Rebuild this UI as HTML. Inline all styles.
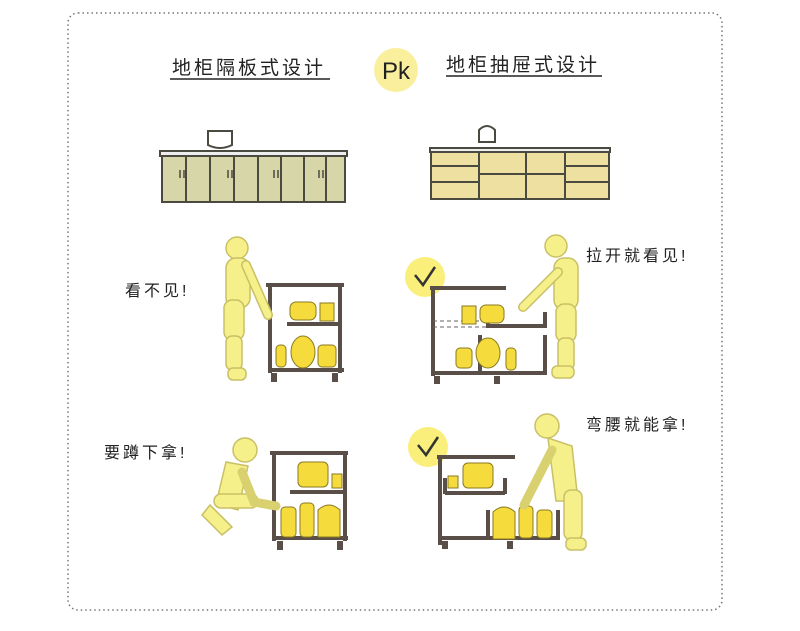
<!DOCTYPE html>
<html><head><meta charset="utf-8"><style>
html,body{margin:0;padding:0;background:#fff;width:800px;height:631px;overflow:hidden}
svg text{font-family:"Liberation Sans","Noto Sans CJK SC",sans-serif;fill:#222}
</style></head><body>
<svg width="800" height="631" viewBox="0 0 800 631" xmlns="http://www.w3.org/2000/svg">
<rect x="68" y="13" width="654" height="597" rx="10" fill="none" stroke="#777" stroke-width="1.5" stroke-dasharray="1.5 3"/>
<!-- titles -->
<text x="172" y="74" font-size="19" letter-spacing="3">地柜隔板式设计</text>
<line x1="170" y1="79" x2="330" y2="79" stroke="#222" stroke-width="1.5"/>
<circle cx="396" cy="70" r="22" fill="#f9ef9c"/>
<text x="382" y="79" font-size="24">Pk</text>
<text x="446" y="71" font-size="19" letter-spacing="3">地柜抽屉式设计</text>
<line x1="446" y1="76" x2="602" y2="76" stroke="#222" stroke-width="1.5"/>
<!-- left counter -->
<g stroke="#4a4a40" stroke-width="2">
<path d="M208 131 h24 v14 q-12 6 -24 0z" fill="#fff"/>
<rect x="160" y="151" width="187" height="5" fill="#eee"/>
<rect x="162" y="156" width="183" height="46" fill="#d6d6a8"/>
<path d="M186 156v46M210 156v46M234 156v46M258 156v46M281 156v46M304 156v46M326 156v46" fill="none"/>
<path d="M180 170v8M184 170v8M228 170v8M232 170v8M274 170v8M278 170v8M319 170v8M323 170v8" fill="none" stroke-width="1.5"/>
</g>
<!-- right counter -->
<g stroke="#4a4a40" stroke-width="2">
<path d="M479 130 q8 -8 16 0 v12 h-16z" fill="#fff"/>
<rect x="430" y="148" width="180" height="4" fill="#eee"/>
<rect x="431" y="152" width="178" height="47" fill="#ede0a0"/>
<path d="M479 152v47M526 152v47M565 152v47M431 166h48M431 182h48M479 174h47M526 174h39M565 166h44M565 182h44" fill="none"/>
</g>
<!-- labels -->
<text x="125" y="296" font-size="16" letter-spacing="3">看不见!</text>
<text x="586" y="261" font-size="16" letter-spacing="3">拉开就看见!</text>
<text x="104" y="458" font-size="16" letter-spacing="3">要蹲下拿!</text>
<text x="586" y="430" font-size="16" letter-spacing="3">弯腰就能拿!</text>
<!-- check circles -->
<circle cx="425" cy="277" r="20" fill="#f9ef7a"/>
<path d="M415 275l8 10l12-18" fill="none" stroke="#333" stroke-width="2.5"/>
<circle cx="428" cy="447" r="20" fill="#f9ef7a"/>
<path d="M418 445l8 10l12-18" fill="none" stroke="#333" stroke-width="2.5"/>
<!-- shelves -->
<g fill="none" stroke="#5a4e48" stroke-width="4">
<path d="M266 285h78M270 285v88M340 285v88M268 370h76M287 324h53"/>
<path d="M274 373v9M335 373v9" stroke-width="6"/>
<path d="M430 288h76M433 288v88M433 373h112M488 326h58M488 312v16M545 312v16M480 335v40M545 335v40"/>
<path d="M437 376v8M497 376v8" stroke-width="6"/>
<path d="M270 453h78M274 453v88M345 453v88M272 538h76M290 492h55"/>
<path d="M280 541v9M340 541v9" stroke-width="6"/>
<path d="M437 457h78M440 457v88M440 538h120M445 493h60M445 478v16M505 478v16M488 510v30M558 510v30"/>
<path d="M445 541v8M510 541v8" stroke-width="6"/>
</g>
<path d="M433 321h55M433 327h55" stroke="#666" stroke-dasharray="4 3"/>
<!-- items -->
<g fill="#f5dc3c" stroke="#8a7a20" stroke-width="1">
<rect x="290" y="302" width="26" height="18" rx="6"/><rect x="320" y="303" width="14" height="18"/>
<rect x="276" y="345" width="10" height="22" rx="4"/><ellipse cx="303" cy="352" rx="12" ry="16"/><rect x="318" y="345" width="18" height="22" rx="4"/>
<rect x="462" y="306" width="14" height="18"/><rect x="480" y="305" width="24" height="18" rx="6"/>
<rect x="456" y="348" width="16" height="20" rx="4"/><ellipse cx="488" cy="353" rx="12" ry="15"/><rect x="506" y="348" width="10" height="22" rx="4"/>
<rect x="298" y="462" width="30" height="25" rx="5"/><rect x="332" y="474" width="10" height="14"/>
<rect x="281" y="507" width="15" height="30" rx="4"/><rect x="300" y="503" width="14" height="34" rx="4"/><path d="M318 510q11 -10 22 0v27h-22z"/>
<rect x="463" y="463" width="30" height="25" rx="5"/><rect x="448" y="476" width="10" height="12"/>
<path d="M493 512q11 -10 22 0v27h-22z"/><rect x="519" y="506" width="14" height="32" rx="4"/><rect x="537" y="510" width="15" height="28" rx="4"/>
</g>
<!-- figures -->
<g fill="#f5f08a" stroke="#c9c066" stroke-width="1.5">
<circle cx="237" cy="248" r="11"/><rect x="226" y="258" width="24" height="50" rx="10"/>
<rect x="224" y="300" width="20" height="40" rx="8"/><rect x="226" y="336" width="16" height="34" rx="6"/><rect x="228" y="368" width="18" height="12" rx="5"/>
<path d="M246 265 l22 50" stroke-width="10" stroke="#c9c066" stroke-linecap="round"/><path d="M246 265 l22 50" stroke-width="7" stroke="#f5f08a" stroke-linecap="round"/>
<circle cx="556" cy="246" r="11"/><rect x="554" y="258" width="24" height="52" rx="10"/>
<rect x="556" y="304" width="20" height="38" rx="8"/><rect x="558" y="338" width="16" height="32" rx="6"/><rect x="552" y="366" width="22" height="12" rx="5"/>
<path d="M558 272 l-35 35" stroke-width="10" stroke="#c9c066" stroke-linecap="round"/><path d="M558 272 l-35 35" stroke-width="7" stroke="#f5f08a" stroke-linecap="round"/>
<circle cx="245" cy="450" r="12"/><path d="M226 462 l22 4 l-10 44 l-22 -6z"/><rect x="214" y="494" width="44" height="14" rx="7"/><path d="M210 505 l22 22 l-10 8 l-20 -20z"/>
<path d="M242 472 l12 30 l22 4" fill="none" stroke-width="9" stroke="#d9d070" stroke-linecap="round"/>
<circle cx="547" cy="426" r="12"/><path d="M548 438 l24 8 l6 55 l-22 0z"/><rect x="564" y="490" width="18" height="50" rx="7"/><rect x="566" y="538" width="20" height="12" rx="5"/>
<path d="M552 450 l-28 55" fill="none" stroke-width="9" stroke="#d9d070" stroke-linecap="round"/>
</g>
</svg>
</body></html>
